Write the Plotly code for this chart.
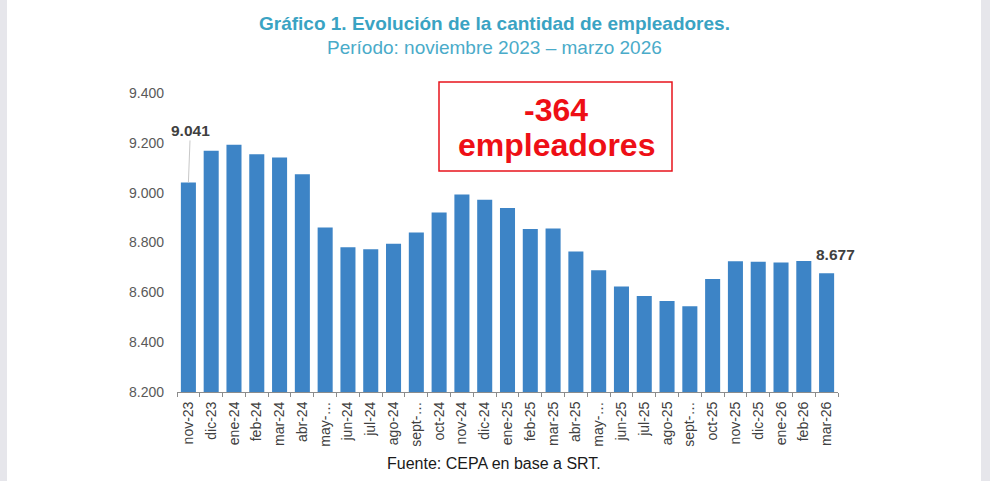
import plotly.graph_objects as go

# ---- data ----
months = ["nov-23", "dic-23", "ene-24", "feb-24", "mar-24", "abr-24", "may-24", "jun-24",
          "jul-24", "ago-24", "sept-24", "oct-24", "nov-24", "dic-24", "ene-25", "feb-25",
          "mar-25", "abr-25", "may-25", "jun-25", "jul-25", "ago-25", "sept-25", "oct-25",
          "nov-25", "dic-25", "ene-26", "feb-26", "mar-26"]
tick_text = ["nov-23", "dic-23", "ene-24", "feb-24", "mar-24", "abr-24", "may-…", "jun-24",
             "jul-24", "ago-24", "sept-…", "oct-24", "nov-24", "dic-24", "ene-25", "feb-25",
             "mar-25", "abr-25", "may-…", "jun-25", "jul-25", "ago-25", "sept-…", "oct-25",
             "nov-25", "dic-25", "ene-26", "feb-26", "mar-26"]
empleadores = [9041, 9168, 9192, 9154, 9141, 9074, 8860, 8781,
               8773, 8795, 8840, 8920, 8993, 8972, 8938, 8854,
               8856, 8764, 8689, 8623, 8585, 8565, 8544, 8654,
               8725, 8723, 8720, 8726, 8677]
y_ticks = [8200, 8400, 8600, 8800, 9000, 9200, 9400]

title = "Gráfico 1. Evolución de la cantidad de empleadores."
subtitle = "Período: noviembre 2023 – marzo 2026"
source = "Fuente: CEPA en base a SRT."
box_line1 = "-364"
box_line2 = "empleadores"

FONT = "Arial, Liberation Sans, sans-serif"
W, H = 990, 481
ML, MR, MT, MB = 177, 152, 93, 89
PW, PH = W - ML - MR, H - MT - MB


def px(xp):
    return (xp - ML) / PW


def py(yp):
    return (H - MB - yp) / PH


fig = go.Figure()
fig.add_trace(go.Bar(
    x=months, y=empleadores,
    marker=dict(color="#3d84c6", line=dict(width=0)),
    hoverinfo="x+y",
))

fig.update_layout(
    width=W, height=H,
    margin=dict(l=ML, r=MR, t=MT, b=MB, pad=0),
    paper_bgcolor="white", plot_bgcolor="white",
    bargap=0.34,
    showlegend=False,
    separators=",.",
    font=dict(family=FONT, color="#595959", size=14),
    xaxis=dict(
        type="category",
        tickmode="array", tickvals=months, ticktext=tick_text,
        tickangle=-90,
        tickfont=dict(size=14, color="#404040"),
        showline=True, linecolor="#8c8c8c", linewidth=1,
        ticks="outside", ticklen=4, tickcolor="#8c8c8c", tickson="boundaries",
        ticklabelstandoff=3,
        showgrid=False, zeroline=False,
        range=[-0.5, len(months) - 0.5],
    ),
    yaxis=dict(
        range=[y_ticks[0], y_ticks[-1]],
        tickmode="array", tickvals=y_ticks,
        tickformat=",d",
        tickfont=dict(size=14, color="#595959"),
        showline=False, showgrid=False, zeroline=False,
        ticks="", ticklabelstandoff=12,
    ),
)

# side strips (screenshot frame)
for x0, x1 in [(0, 7), (981, 990)]:
    fig.add_shape(type="rect", xref="paper", yref="paper",
                  x0=px(x0), x1=px(x1), y0=py(H), y1=py(0),
                  fillcolor="#e6e6eb", line=dict(width=0), layer="below")


def text_at(txt, xp, yp, size, color):
    fig.add_annotation(text=txt, xref="paper", yref="paper",
                       x=px(xp), y=py(yp), xanchor="center", yanchor="middle",
                       showarrow=False, font=dict(family=FONT, size=size, color=color))


# titles
text_at(f"<b>{title}</b>", 494, 24, 19, "#3aa3c3")
text_at(subtitle, 494, 47, 19, "#4aabc9")
text_at(source, 494, 463, 16, "#1a1a1a")

# red box
fig.add_shape(type="rect", xref="paper", yref="paper",
              x0=px(439), x1=px(672), y0=py(171), y1=py(82),
              fillcolor="white", line=dict(color="#e8141c", width=1.5))
text_at(f"<b>{box_line1}</b>", 556, 110, 32, "#ee0f16")
text_at(f"<b>{box_line2}</b>", 556, 145, 32, "#ee0f16")

# data labels
fig.add_annotation(x=months[0], y=empleadores[0], text=f"<b>{empleadores[0]:,}</b>".replace(",", "."),
                   showarrow=True, arrowhead=0, arrowwidth=1, arrowcolor="#c8c8c8",
                   ax=2, ay=-52, standoff=0,
                   font=dict(family=FONT, size=15.5, color="#404040"))
fig.add_annotation(x=months[-1], y=empleadores[-1], text=f"<b>{empleadores[-1]:,}</b>".replace(",", "."),
                   showarrow=False, xshift=9, yshift=19,
                   font=dict(family=FONT, size=15.5, color="#404040"))

fig.write_html("out.html")
